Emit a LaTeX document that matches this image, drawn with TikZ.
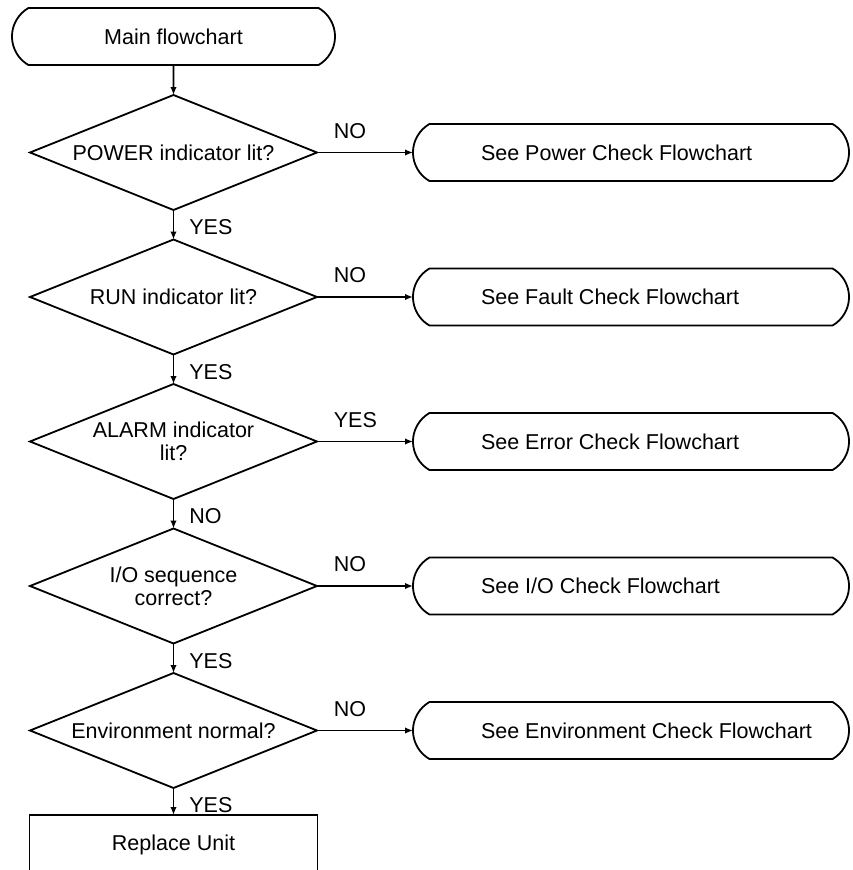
\documentclass[tikz,border=0pt]{standalone}
\usepackage{fontspec}
\setmainfont{Liberation Sans}
\usetikzlibrary{positioning, shapes.geometric, shapes.misc, arrows.meta}
\newcommand{\lefttext}[1]{\makebox[300pt][l]{#1}}

\begin{document}
\begin{tikzpicture}[x=1pt,y=-1pt,
    font=\fontsize{21.5}{23}\selectfont,
    terminal/.style={draw,line width=1.8pt,rounded rectangle,
      rounded rectangle arc length=120,minimum height=57pt,
      inner sep=0pt,outer sep=0pt},
    seebox/.style={terminal,minimum width=436pt},
    decision/.style={draw,line width=1.8pt,diamond,aspect=2.5,
      minimum width=287pt,minimum height=115pt,
      inner sep=0pt,outer sep=0pt,align=center},
    process/.style={draw,line width=1.8pt,rectangle,
      minimum width=288pt,minimum height=60pt,outer sep=0pt},
    flow/.style={line width=1.8pt,-{Latex[length=8pt,width=6.5pt]}},
    downlabel/.style={inner sep=0pt,pos=0,anchor=north west,xshift=15pt,yshift=-9pt},
    sidelabel/.style={inner sep=0pt,pos=0,anchor=south west,xshift=16pt,yshift=13pt}]

\useasboundingbox (0,0) rectangle (853,870);
\clip (0,0) rectangle (853,870);

% main column
\node[terminal,minimum width=323pt] (main) at (173.5,36.5) {Main flowchart};
\node[decision,below=30pt of main] (power) {POWER indicator lit?};
\node[decision,below=29.5pt of power] (run) {RUN indicator lit?};
\node[decision,below=29.5pt of run] (alarm) {ALARM indicator\\lit?};
\node[decision,below=29.5pt of alarm] (iosEq) {I/O sequence\\correct?};
\node[decision,below=29.5pt of iosEq] (envir) {Environment normal?};
\node[process,below=27pt of envir] (replace) {Replace Unit};

% side column
\node[seebox,right=96pt of power] (powerchk) {\lefttext{See Power Check Flowchart}};
\node[seebox,right=96pt of run] (faultchk) {\lefttext{See Fault Check Flowchart}};
\node[seebox,right=96pt of alarm] (errorchk) {\lefttext{See Error Check Flowchart}};
\node[seebox,right=96pt of iosEq] (iochk) {\lefttext{See I/O Check Flowchart}};
\node[seebox,right=96pt of envir] (envchk) {\lefttext{See Environment Check Flowchart}};

\draw[flow] (main) -- (power);
\draw[flow] (power) -- node[downlabel] {YES} (run);
\draw[flow] (run) -- node[downlabel] {YES} (alarm);
\draw[flow] (alarm) -- node[downlabel] {NO} (iosEq);
\draw[flow] (iosEq) -- node[downlabel] {YES} (envir);
\draw[flow] (envir) -- node[downlabel] {YES} (replace);

\draw[flow] (power) -- node[sidelabel] {NO} (powerchk);
\draw[flow] (run) -- node[sidelabel] {NO} (faultchk);
\draw[flow] (alarm) -- node[sidelabel] {YES} (errorchk);
\draw[flow] (iosEq) -- node[sidelabel] {NO} (iochk);
\draw[flow] (envir) -- node[sidelabel] {NO} (envchk);
\end{tikzpicture}
\end{document}
